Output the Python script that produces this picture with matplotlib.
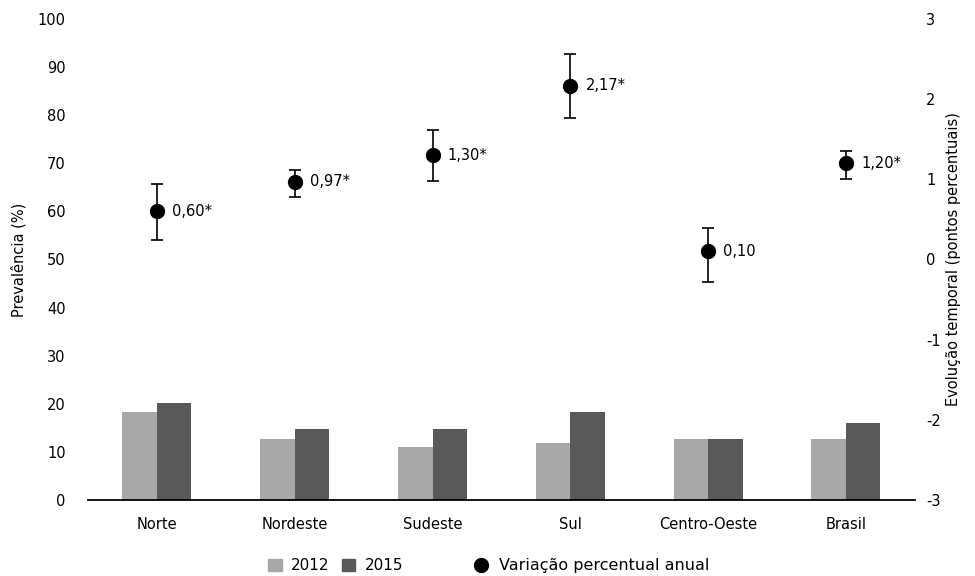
import matplotlib
matplotlib.use("Agg")
import matplotlib.pyplot as plt
import numpy as np
from matplotlib.lines import Line2D
from matplotlib.patches import Patch

regioes = ["Norte", "Nordeste", "Sudeste", "Sul", "Centro-Oeste", "Brasil"]
prev_2012 = [18.3, 12.7, 11.0, 11.9, 12.7, 12.6]
prev_2015 = [20.2, 14.8, 14.8, 18.3, 12.7, 16.1]
variacao = [0.60, 0.97, 1.30, 2.17, 0.10, 1.20]
ic_inf = [0.24, 0.78, 0.98, 1.77, -0.28, 1.00]
ic_sup = [0.94, 1.12, 1.61, 2.56, 0.39, 1.35]
rotulos = ["0,60*", "0,97*", "1,30*", "2,17*", "0,10", "1,20*"]

cor_2012 = "#a7a8aa"
cor_2015 = "#58595b"

plt.rcParams["font.family"] = ["DejaVu Sans"]
plt.rcParams["font.size"] = 10.5
plt.rcParams["axes.unicode_minus"] = False

fig = plt.figure(figsize=(9.75, 5.76), dpi=100)
ax = fig.add_axes([0.0903, 0.132, 0.848, 0.835])

x = np.arange(len(regioes))
w = 0.25
ax.bar(x - w / 2, prev_2012, width=w, color=cor_2012)
ax.bar(x + w / 2, prev_2015, width=w, color=cor_2015)

ax.set_xlim(-0.5, len(regioes) - 0.5)
ax.set_ylim(0, 100)
ax.set_yticks(range(0, 101, 10))
ax.set_xticks(x)
ax.set_xticklabels(regioes)
ax.tick_params(axis="y", length=0, pad=16)
ax.tick_params(axis="x", length=0, pad=12)
for s in ["top", "left", "right"]:
    ax.spines[s].set_visible(False)
ax.spines["bottom"].set_linewidth(1.3)
ax.set_ylabel("Prevalência (%)", labelpad=8)

ax2 = ax.twinx()
v = np.array(variacao)
erro = [v - np.array(ic_inf), np.array(ic_sup) - v]
ax2.errorbar(x, v, yerr=erro, fmt="o", color="black", markersize=10,
             capsize=4.5, elinewidth=1.2, capthick=1.2)
for xi, vi, r in zip(x, v, rotulos):
    ax2.annotate(r, (xi, vi), xytext=(11, 0), textcoords="offset points",
                 va="center", ha="left")
ax2.set_ylim(-3, 3)
ax2.set_yticks(range(-3, 4))
ax2.tick_params(axis="y", length=0, pad=8)
for s in ["top", "left", "right", "bottom"]:
    ax2.spines[s].set_visible(False)
ax2.set_ylabel("Evolução temporal (pontos percentuais)", labelpad=4)

h_barras = [Patch(color=cor_2012, label="2012"), Patch(color=cor_2015, label="2015")]
fig.legend(handles=h_barras, loc="center", bbox_to_anchor=(0.344, 0.018), ncol=2,
           frameon=False, handlelength=0.9, handleheight=0.9, columnspacing=0.8,
           handletextpad=0.6, fontsize=11)
h_ponto = [Line2D([], [], marker="o", color="black", linestyle="none",
                  markersize=10, label="Variação percentual anual")]
fig.legend(handles=h_ponto, loc="center", bbox_to_anchor=(0.602, 0.018),
           frameon=False, handletextpad=0.1, fontsize=11.5)

fig.savefig("out.png", dpi=100)
